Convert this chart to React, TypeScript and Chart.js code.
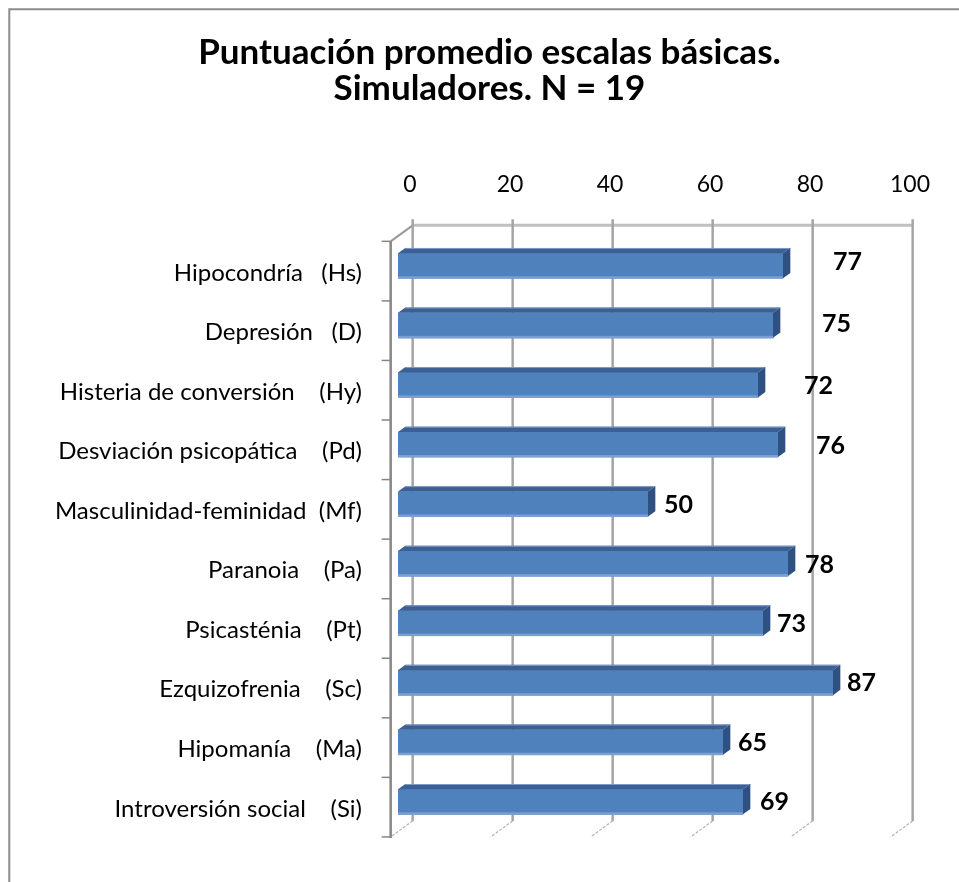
import React, { useEffect, useRef } from "react";
import { Chart, registerables } from "chart.js";

Chart.register(...registerables);

const categories = [
  "Hipocondría   (Hs)",
  "Depresión   (D)",
  "Histeria de conversión    (Hy)",
  "Desviación psicopática    (Pd)",
  "Masculinidad-feminidad  (Mf)",
  "Paranoia    (Pa)",
  "Psicasténia    (Pt)",
  "Ezquizofrenia    (Sc)",
  "Hipomanía    (Ma)",
  "Introversión social    (Si)",
];
const scores = [77, 75, 72, 76, 50, 78, 73, 87, 65, 69];
const xTicks = [0, 20, 40, 60, 80, 100];
const titleLines = ["Puntuación promedio escalas básicas.", "Simuladores. N = 19"];

export default function App() {
  const ref = useRef<HTMLCanvasElement>(null);

  useEffect(() => {
    const canvas = ref.current!;
    const DX = 22;
    const DY = -16;
    const fx = -DX / 3, fy = -DY / 3; // front plane offset from bar plane
    const bx = (2 * DX) / 3, by = (2 * DY) / 3; // back wall offset
    const dbx = DX / 3, dby = DY / 3; // bar depth
    const labelGap = [50, 49, 46, 38, 16, 17, 14, 14, 15, 17];
    const labelDy = [-4, -1, 1.5, 1, 0.5, 1.5, 1, 0.5, 0.5, 0.5];

    const threeD = {
      id: "threeD",
      beforeDraw(chart: any) {
        const ctx = chart.ctx;
        ctx.save();
        ctx.fillStyle = "#ffffff";
        ctx.fillRect(0, 0, chart.width, chart.height);
        ctx.strokeStyle = "#8c8c8c";
        ctx.lineWidth = 2;
        ctx.beginPath();
        ctx.moveTo(9.3, chart.height + 2);
        ctx.lineTo(9.3, 9.3);
        ctx.lineTo(chart.width + 2, 9.3);
        ctx.stroke();
        // title
        ctx.fillStyle = "#000000";
        ctx.font = "bold 35px Lato";
        ctx.textAlign = "center";
        ctx.textBaseline = "middle";
        titleLines.forEach((t, i) => ctx.fillText(t, 489.5, 53 + i * 36));
        ctx.restore();
      },
      beforeDatasetsDraw(chart: any) {
        const ctx = chart.ctx;
        const sx = chart.scales.x;
        const sy = chart.scales.y;
        const a = chart.chartArea;
        ctx.save();
        // back wall top edge
        ctx.strokeStyle = "#c0c0c0";
        ctx.lineWidth = 3;
        ctx.beginPath();
        ctx.moveTo(sx.getPixelForValue(xTicks[0]) + bx, a.top + by);
        ctx.lineTo(sx.getPixelForValue(xTicks[xTicks.length - 1]) + bx, a.top + by);
        ctx.stroke();
        // left side wall top diagonal
        ctx.strokeStyle = "#9a9a9a";
        ctx.lineWidth = 2;
        ctx.beginPath();
        ctx.moveTo(a.left + fx, a.top + fy);
        ctx.lineTo(a.left + bx, a.top + by);
        ctx.stroke();
        // vertical gridlines on back wall + tick marks + floor diagonals
        for (const v of xTicks) {
          const x = sx.getPixelForValue(v) + bx;
          ctx.strokeStyle = "#a4a4a4";
          ctx.lineWidth = 2.5;
          ctx.beginPath();
          ctx.moveTo(x, a.top + by - 6);
          ctx.lineTo(x, a.bottom + by);
          ctx.stroke();
          ctx.strokeStyle = "#b4b4b4";
          ctx.lineWidth = 1.2;
          ctx.setLineDash([3, 1.5]);
          ctx.beginPath();
          ctx.moveTo(x, a.bottom + by);
          ctx.lineTo(sx.getPixelForValue(v) + fx, a.bottom + fy);
          ctx.stroke();
          ctx.setLineDash([]);
        }
        // front left axis
        const ax = a.left + fx;
        ctx.strokeStyle = "#868686";
        ctx.lineWidth = 2.5;
        ctx.beginPath();
        ctx.moveTo(ax, a.top + fy);
        ctx.lineTo(ax, a.bottom + fy + 1);
        ctx.stroke();
        ctx.lineWidth = 1.5;
        for (let k = 0; k <= categories.length; k++) {
          const y = sy.getPixelForValue(k - 0.5) + fy;
          ctx.beginPath();
          ctx.moveTo(ax - 9, y);
          ctx.lineTo(ax, y);
          ctx.stroke();
        }
        ctx.restore();
      },
      afterDatasetsDraw(chart: any) {
        const ctx = chart.ctx;
        const meta = chart.getDatasetMeta(0);
        ctx.save();
        meta.data.forEach((el: any, i: number) => {
          const { x, y, base, height } = el.getProps(["x", "y", "base", "height"], true);
          const top = y - height / 2;
          const bottom = y + height / 2;
          // bottom highlight on front face
          ctx.fillStyle = "#7c9fcf";
          ctx.fillRect(base, bottom - 2, x - base, 2.5);
          // top face
          ctx.fillStyle = "#3c6094";
          ctx.beginPath();
          ctx.moveTo(base, top);
          ctx.lineTo(x, top);
          ctx.lineTo(x + dbx, top + dby);
          ctx.lineTo(base + dbx, top + dby);
          ctx.closePath();
          ctx.fill();
          ctx.strokeStyle = "#7f9cc6";
          ctx.lineWidth = 1;
          ctx.beginPath();
          ctx.moveTo(base + dbx, top + dby + 0.5);
          ctx.lineTo(x + dbx, top + dby + 0.5);
          ctx.stroke();
          // side face
          ctx.fillStyle = "#2f5181";
          ctx.beginPath();
          ctx.moveTo(x, top);
          ctx.lineTo(x + dbx, top + dby);
          ctx.lineTo(x + dbx, bottom + dby);
          ctx.lineTo(x, bottom);
          ctx.closePath();
          ctx.fill();
          // data label
          ctx.fillStyle = "#000000";
          ctx.font = "bold 25px Lato";
          ctx.textAlign = "left";
          ctx.textBaseline = "middle";
          ctx.fillText(String(scores[i]), x + labelGap[i], y + labelDy[i]);
        });
        ctx.restore();
      },
    };

    const chart = new Chart(canvas, {
      type: "bar",
      data: {
        labels: categories,
        datasets: [
          {
            data: scores,
            backgroundColor: "#4f81bd",
            borderWidth: 0,
            barThickness: 25,
          },
        ],
      },
      options: {
        indexAxis: "y",
        responsive: false,
        animation: false,
        devicePixelRatio: 1,
        layout: { padding: { left: 0, right: 61, top: 0, bottom: 40 } },
        plugins: {
          legend: { display: false },
          tooltip: { enabled: false },
          title: { display: false },
        },
        scales: {
          x: {
            position: "top",
            min: 0,
            max: 100,
            afterBuildTicks: (s: any) => {
              s.ticks = xTicks.map((v) => ({ value: v }));
            },
            ticks: {
              color: "#000000",
              font: { family: "Lato", size: 23 },
              padding: 38,
              labelOffset: 12,
              maxRotation: 0,
            },
            grid: { display: false, drawTicks: false },
            border: { display: false },
            afterFit: (s: any) => {
              s.height = 236;
            },
          },
          y: {
            ticks: {
              color: "#000000",
              font: { family: "Lato", size: 24 },
              padding: 36,
              labelOffset: 7,
              autoSkip: false,
            },
            grid: { display: false, drawTicks: false },
            border: { display: false },
            afterFit: (s: any) => {
              s.width = 398;
            },
          },
        },
      },
      plugins: [threeD],
    } as any);

    return () => chart.destroy();
  }, []);

  return (
    <div style={{ position: "absolute", left: 0, top: 0, width: 959, height: 882 }}>
      <canvas ref={ref} width={959} height={882} style={{ display: "block", width: 959, height: 882 }} />
    </div>
  );
}
